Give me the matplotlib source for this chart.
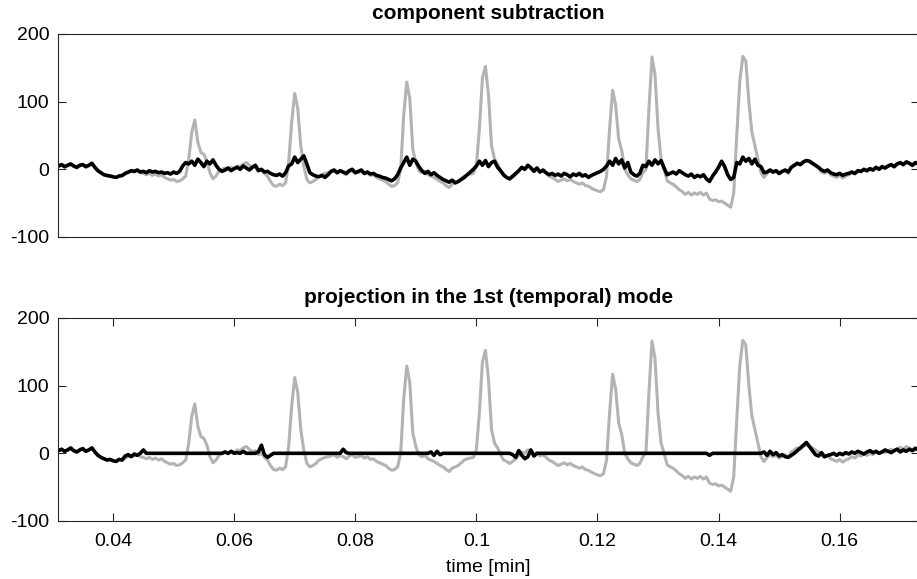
import matplotlib
matplotlib.use('Agg')
import matplotlib.pyplot as plt
import numpy as np

plt.rcParams['font.family'] = ['Liberation Sans', 'DejaVu Sans']

# sampling instants [min]
t_start = 0.031
t_end = 0.173

# original signal (gray, same in both panels)
original = [
    4, 6, 3, 5, 7, 4, 2, 5, 6, 3, 5, 8,
    2, -3, -6, -8, -10, -9, -11, -12, -9, -10,
    -7, -5, -3, -4, -2, -5, -6, -8, -6, -9, -7, -10, -8,
    -12, -14, -16, -15, -18, -17, -14,
    -10, 15, 55, 73, 40, 25, 22, 12, -5, -14, -10,
    -3, 0, 2, -1, 3, 1, 5, 4, 8, 10, 6, 2, 4, -2, 0, -6, -10,
    -18, -24, -25, -22, -24, -20,
    10, 70, 112, 90, 35, 5, -15,
    -20, -18, -15, -10, -8, -6, -5,
    -4, -2, -6, -3, -5, -8, -4, -2, -6, -5, -3, -7, -5, -9, -8, -12, -14, -16, -18,
    -22, -25, -24, -20,
    0, 80, 129, 105, 30, 10,
    -2, -5, -3, -8, -10, -12, -15, -18,
    -20, -24, -27, -22, -20, -18, -14, -10,
    -8, -7, -6, 5, 60, 135, 152, 110, 35, 15, 8, -2,
    -10, -12, -15, -12, -8, -3, 2, 0, 5, 3, -2, 1, -4, -2,
    -6, -10, -12, -15, -18, -16, -14, -17, -15, -18,
    -20, -22, -20, -24, -25, -28, -30, -32, -33,
    -30, -10, 60, 117, 95, 45, 28, 0, -8,
    -14, -16, -18, -15, -5,
    0, 90, 166, 140, 60, 15, 0,
    -17, -20, -22, -26, -30, -33, -37, -34, -38, -35, -37, -34, -38, -35,
    -44, -46, -45, -48, -47, -50, -53, -56,
    -35, 50, 130, 167, 160, 100, 55, 35, 15, -5, -12,
    -6, -2, -5, -3, -7, -4, -2, -6, 2, 5, 8, 6, 10, 13, 11, 8, 5, 2, -4, -6,
    -3, -8, -10, -12, -9, -13, -10, -8,
    -5, -7, -3, -4, -1, -3, 0, -2, 2, 0, 3, 1, 4, 6, 3, 7, 9, 6, 10, 8, 5, 9, 7,
]

# after component subtraction (black, top)
subtracted = [
    5, 7, 4, 6, 8, 5, 3, 6, 7, 4, 6, 9,
    3, -2, -5, -8, -9, -10, -11, -12, -10, -9,
    -6, -4, -2, -3, -1, -4, -3, -5, -2, -4, -3, -5, -4,
    -6, -5, -7, -4, -6, -3, 5,
    10, 8, 12, 6, 15, 10, 4, 12, 8, 14, 6,
    0, -3, -1, 2, -2, 1, 3, 0, 5, 2, -1, 3, 6, -2, 0, -4, -3,
    -6, -8, -9, -7, -10, -5,
    5, 8, 18, 10, 15, 20, 8,
    -5, -8, -10, -11, -9, -12, -8,
    -3, -1, -5, -2, -4, -6, -2, 0, -5, -3, -1, -6, -4, -7, -6, -9, -10, -12, -13,
    -15, -17, -14, -8,
    2, 10, 18, 6, 15, 12,
    4, -2, -6, -3, -8, -5, -9, -12,
    -15, -17, -19, -16, -20, -18, -15, -12,
    -8, -4, 0, 5, 12, 6, 13, 4, 10, 12, 3, -2,
    -8, -12, -14, -10, -6, -2, 3, 0, 6, 2, -3, 2, -4, -1,
    -5, -8, -6, -9, -7, -10, -6, -8, -11, -7,
    -9, -6, -10, -8, -12, -9, -7, -5, -3, 0,
    5, 12, 6, 16, 8, 14, 2, 10, -4, -8, -10, -6, 6,
    4, 12, 6, 14, 8, 13, 2,
    -8, -6, -4, -7, -2, -5, -8, -10, -7, -12, -9, -11, -8, -14,
    -18, -10, -4, 3, 12, 4, -8, -15,
    -12, 10, 8, 18, 12, 16, 8, 15, 6, 4, -5,
    -4, -1, -4, -2, -6, -3, -1, -4, 3, 6, 9, 7, 11, 13, 12, 9, 6, 3, -1, -3,
    -1, -5, -7, -8, -6, -9, -7, -6, -4, -6, -2, -3, 0, -2, 1, -1, 3, 0, 4, 2,
    5, 7, 4, 8, 10, 7, 11, 9, 6, 10, 8,
]

# projection in the 1st (temporal) mode (black, bottom)
projected = (
    [4, 6, 3, 5, 8, 4, 2, 5, 7, 3, 5, 8,
     2, -3, -6, -8, -10, -9, -11, -12, -9, -10,
     -4, -2, -5, -1, -3, 0, 5]
    + [0] * 26
    + [2, 0, 3, 0, 1, 0, 3, 0, 0, 0, 0, 2, 12, -2, -6, -3, 0]
    + [0] * 22
    + [6, 1]
    + [0] * 27
    + [2, -3, 3, -2]
    + [0] * 23
    + [-2, -6, 4, -3, -8, -5, 5, -4, 0]
    + [0] * 56
    + [-3]
    + [0] * 16
    + [0, 2, -3, 3, -2, 1, -4, -2, -5, -6, -3, 0, 4, 8, 12, 16, 10, 4, -2, -4,
       1, -5, -3, -2, 0, -3, 0, -2, 1, -1, 2, 0, 3, 1, -1, 2, 4, 1, 3, 0,
       2, 5, 3, 1, 4, 6, 2, 5, 3, 6, 4, 7, 5]
)

t = np.linspace(t_start, t_end, len(original))

gray = (0.7, 0.7, 0.7)
axcol = '#262626'

fig = plt.figure(figsize=(9.17, 5.79), dpi=100)
ax1 = fig.add_axes([0.0632, 0.5907, 0.939, 0.3506])
ax2 = fig.add_axes([0.0632, 0.1002, 0.939, 0.3506])

ax1.plot(t, original, color=gray, lw=2.2)
ax1.plot(t, subtracted, color='k', lw=2.6)
ax2.plot(t, original, color=gray, lw=2.2)
ax2.plot(t, projected, color='k', lw=2.6)

for ax in (ax1, ax2):
    ax.set_xlim(0.0309, 0.1731)
    ax.set_ylim(-100, 200)
    ax.set_yticks([-100, 0, 100, 200])
    ax.set_yticklabels(['-100', '0', '100', '200'])
    for s in ax.spines.values():
        s.set_color(axcol)
        s.set_linewidth(0.8)
    ax.tick_params(direction='in', length=6, width=0.8, color=axcol,
                   labelsize=14, right=True, top=True)
    ax.tick_params(axis='y', pad=6)
    ax.tick_params(axis='x', pad=9)

ax1.set_xticks([])
ax1.set_title('component subtraction', fontsize=15, fontweight='bold', pad=11)

ticks = [0.04, 0.06, 0.08, 0.1, 0.12, 0.14, 0.16]
ax2.set_xticks(ticks)
ax2.set_xticklabels(['0.04', '0.06', '0.08', '0.1', '0.12', '0.14', '0.16'])
ax2.set_title('projection in the 1st (temporal) mode', fontsize=15,
              fontweight='bold', pad=11)
ax2.set_xlabel('time [min]', fontsize=14, labelpad=6)

fig.savefig('out.png', dpi=100)
